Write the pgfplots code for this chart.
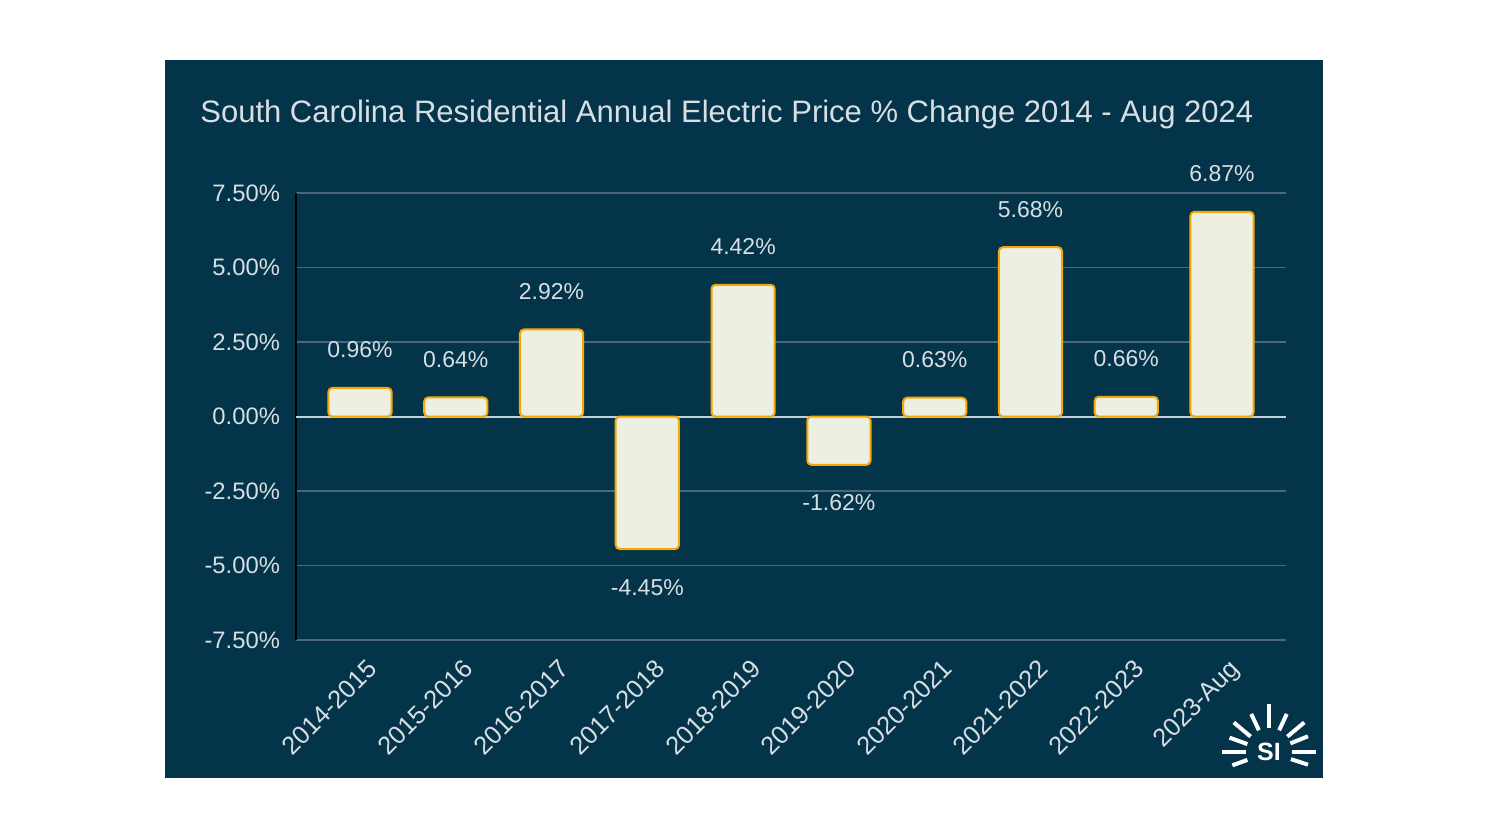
\documentclass[border=0pt]{standalone}
\usepackage{pgfplots}
\pgfplotsset{compat=1.18}
\usepackage{fontspec}
\setmainfont{Liberation Sans}
\definecolor{panel}{HTML}{03344A}
\definecolor{barfill}{HTML}{EDEFE3}
\definecolor{barline}{HTML}{F4A800}
\definecolor{txt}{HTML}{D8DEE2}
\definecolor{gridc}{HTML}{4B6978}
\definecolor{zeroc}{HTML}{C3D0D8}
\begin{document}
\begin{tikzpicture}
\fill[white] (0,0) rectangle (744pt,-418.5pt);
\fill[panel] (82.5pt,-30pt) rectangle (661.5pt,-389pt);
\node[anchor=west, text=txt, inner sep=0pt, font=\fontsize{15.5}{18}\selectfont] at (100pt,-57pt) {South Carolina Residential Annual Electric Price \% Change 2014 - Aug 2024};
\begin{axis}[
  at={(148pt,-320pt)}, anchor=south west,
  scale only axis, width=495pt, height=223.5pt,
  xmin=-0.668, xmax=9.668, ymin=-7.5, ymax=7.5,
  axis x line*=bottom, axis y line*=left,
  x axis line style={draw=none},
  y axis line style={-, black, line width=1pt},
  major tick length=0pt,
  ytick={-7.5,-5,-2.5,0,2.5,5,7.5},
  yticklabel={\pgfmathprintnumber[fixed,fixed zerofill,precision=2]{\tick}\%},
  yticklabel style={text=txt, font=\fontsize{11.9}{13}\selectfont, xshift=-4.5pt},
  xtick={0,...,9},
  xticklabels={2014-2015,2015-2016,2016-2017,2017-2018,2018-2019,2019-2020,2020-2021,2021-2022,2022-2023,2023-Aug},
  xticklabel style={text=txt, font=\fontsize{12.7}{14}\selectfont, rotate=45, anchor=north east, xshift=-0.5pt, yshift=-5pt},
  ymajorgrids, grid style={gridc, line width=0.7pt},
  xmajorgrids=false,
  clip=false,
  /pgf/number format/assume math mode=true,
]
\draw[zeroc, line width=1pt] (axis cs:-0.668,0) -- (axis cs:9.668,0);
\addplot[ybar, bar width=0.66, fill=barfill, draw=barline, line width=1pt, rounded corners=2pt,
  nodes near coords={\pgfmathprintnumber[fixed,fixed zerofill,precision=2]{\pgfplotspointmeta}\%},
  every node near coord/.append style={text=txt, font=\fontsize{11.5}{13}\selectfont, inner sep=0pt, outer ysep=15pt, /pgf/number format/assume math mode=true}]
coordinates {(0,0.96) (1,0.64) (2,2.92) (3,-4.45) (4,4.42) (5,-1.62) (6,0.63) (7,5.68) (8,0.66) (9,6.87)};
\end{axis}
% logo
\begin{scope}[shift={(634.5pt,-376pt)}, white, line width=2pt]
\foreach \a/\ri/\ro in {90/12/24, 115/12/21, 65/12/21, 140/12/23, 40/12/23, 160/11.5/21, 22/11.5/21, 180/11.5/23.5, 0/11.5/23.5, 200/11.5/19.5, -18/11.5/20.5}
  \draw (\a:\ri pt) -- (\a:\ro pt);
\node[text=white, inner sep=0pt, font=\fontsize{12.5}{13}\bfseries\selectfont] at (0,0) {SI};
\end{scope}
\end{tikzpicture}
\end{document}
